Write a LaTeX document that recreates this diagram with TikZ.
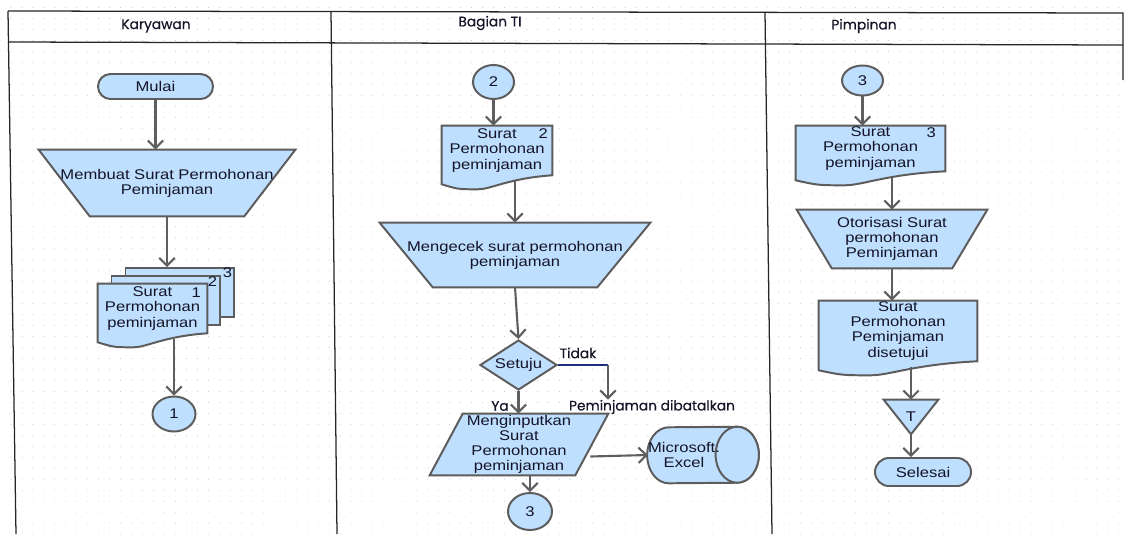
\documentclass[tikz,border=0pt]{standalone}
\usepackage{fontspec}
\setmainfont{Liberation Sans}[FakeStretch=1.18]
\newfontfamily\handfont{Poppins}[FakeBold=0.5]
\usetikzlibrary{shapes.geometric,shapes.misc,arrows.meta,backgrounds,patterns.meta}
\definecolor{boxfill}{HTML}{BFDFFF}
\definecolor{boxline}{HTML}{5C5C5C}
\definecolor{arrline}{HTML}{5E5E5E}
\definecolor{navy}{HTML}{1F2E80}
\definecolor{txt}{HTML}{141428}

\newcommand\docshape[2]{%
  \filldraw[shp] (#1.north west) -- (#1.north east) -- (#1.south east)
    .. controls ([shift={(-0.4*#2,3)}]#1.south east) and ([shift={(0.45*#2,14)}]#1.south west)
    .. ([shift={(0.33*#2,14)}]#1.south west)
    .. controls ([shift={(0.15*#2,14)}]#1.south west) .. ([shift={(0,9)}]#1.south west) -- cycle;}
\newcommand\trapshape[2]{%
  \filldraw[shp] (#1.north west) -- (#1.north east) -- ([shift={(-#2,0)}]#1.south east)
    -- ([shift={(#2,0)}]#1.south west) -- cycle;}

\begin{document}
\begin{tikzpicture}[x=0.025cm, y=-0.025cm,
    font=\fontsize{10}{10.7}\selectfont,
    box/.style={align=center, inner sep=0pt, text=txt},
    shp/.style={fill=boxfill, draw=boxline, line width=1.4pt},
    term/.style={box, shp, rounded rectangle},
    conn/.style={box, shp, ellipse},
    arr/.style={draw=arrline, line width=1.5pt, -{Straight Barb[length=5.5pt,width=11pt]}},
    lane/.style={draw=black!85, line width=0.9pt},
    hand/.style={inner sep=0pt, text=txt, font=\handfont\fontsize{9.8}{11}\selectfont},
    fromdoc/.style={shorten <=0.15cm}]
  \useasboundingbox (0,0) rectangle (1124,534);

  \draw[lane] (8,11) -- (1123,13) -- (1123,80);
  \draw[lane] (8,42) -- (1123,45);
  \draw[lane] (8,11) -- (16,534);
  \draw[lane] (331,11) -- (337,534);
  \draw[lane] (765,12) -- (772,534);
  \node[hand] (hk) at (156,26) {Karyawan};
  \node[hand] (ht) at (490,23) {Bagian TI};
  \node[hand] (hp) at (864,26) {Pimpinan};

  % Karyawan
  \node[term, minimum width=2.875cm, minimum height=0.625cm] (mulai) at (155.5,86.5) {Mulai};
  \node[box, minimum width=6.4cm, minimum height=1.65cm] (membuat) at (167,183) {Membuat Surat Permohonan\\Peminjaman};
  \node[box, minimum width=2.725cm, minimum height=1.225cm] (sa) at (152.5,308.5) {Surat\\Permohonan\\peminjaman};
  \node[conn, minimum width=1.075cm, minimum height=0.875cm] (c1) at (174,414) {1};

  % Bagian TI
  \node[conn, minimum width=1.025cm, minimum height=0.85cm] (c2) at (493.5,82) {2};
  \node[box, minimum width=2.75cm, minimum height=1.225cm] (sb) at (497,150.5) {Surat\\Permohonan\\peminjaman};
  \node[box, minimum width=6.75cm, minimum height=1.6cm] (cek) at (515,255) {Mengecek surat permohonan\\peminjaman};
  \node[box, shp, diamond, aspect=1.5, minimum width=1.925cm, minimum height=1.25cm] (setuju) at (518.5,365) {Setuju};
  \node[hand] (tidak) at (578,353) {Tidak};
  \node[hand] (ya) at (500,406) {Ya};
  \node[hand] (batal) at (652,407) {Peminjaman dibatalkan};
  \node[box, minimum width=4.45cm, minimum height=1.525cm] (input) at (519,444.5) {Menginputkan\\Surat\\Permohonan\\peminjaman};
  \node[box, minimum width=1.7cm, minimum height=1.4cm] (excel) at (684,455) {Microsoft.\\Excel};
  \node[conn, minimum width=1.1cm, minimum height=0.925cm] (c3b) at (530,511.5) {3};

  % Pimpinan
  \node[conn, minimum width=1.025cm, minimum height=0.75cm] (c3c) at (862.5,80.5) {3};
  \node[box, minimum width=3.725cm, minimum height=1.125cm] (sc) at (870.5,148.5) {Surat\\Permohonan\\peminjaman};
  \node[box, minimum width=4.75cm, minimum height=1.45cm] (otor) at (892,239) {Otorisasi Surat\\permohonan\\Peminjaman};
  \node[box, minimum width=3.95cm, minimum height=1.5cm] (sd) at (898,331) {Surat\\Permohonan\\Peminjaman\\disetujui};
  \node[box, minimum width=1.35cm, minimum height=0.85cm] (tri) at (911,417) {T};
  \node[term, minimum width=2.4cm, minimum height=0.7cm] (selesai) at (923,472) {Selesai};

  \begin{scope}[on background layer]
    \fill[pattern={Dots[distance=7.8pt,radius=0.35pt]}, pattern color=black!25] (0,0) rectangle (1124,534);
    \node[shp, minimum width=2.7cm, minimum height=1.225cm] (sa3) at ([shift={(27,-16)}]sa) {};
    \node[shp, minimum width=2.7cm, minimum height=1.225cm] (sa2) at ([shift={(13,-8)}]sa) {};
    \docshape{sa}{109}
    \docshape{sb}{110}
    \docshape{sc}{149}
    \docshape{sd}{158}
    \trapshape{membuat}{51}
    \trapshape{cek}{53}
    \trapshape{otor}{35}
    \filldraw[shp] (input.south west) -- ([shift={(33,0)}]input.north west) -- (input.north east)
      -- ([shift={(-33,0)}]input.south east) -- cycle;
    \filldraw[shp] (tri.north west) -- (tri.north east) -- (tri.south) -- cycle;
    \filldraw[shp] ([shift={(17,0)}]excel.north east) arc[start angle=90, end angle=-90, x radius=0.54cm, y radius=0.7cm]
      -- ([shift={(21,0)}]excel.south west) arc[start angle=270, end angle=90, x radius=0.54cm, y radius=0.7cm] -- cycle;
    \draw[shp] ([shift={(17,28)}]excel.north east) ellipse[x radius=0.54cm, y radius=0.7cm];
  \end{scope}

  \node[box] (na) at ([shift={(-11,9)}]sa.north east) {1};
  \node[box] (na2) at ([shift={(-8,7)}]sa2.north east) {2};
  \node[box] (na3) at ([shift={(-7,6)}]sa3.north east) {3};
  \node[box] (nb) at ([shift={(-9,8)}]sb.north east) {2};
  \node[box] (nc) at ([shift={(-14,7)}]sc.north east) {3};

  \coordinate (tk) at (608,365);
  \draw[arr] (mulai.south) -- (mulai.south |- membuat.north);
  \draw[arr] (membuat.south) -- (membuat.south |- sa3.north);
  \draw[arr, fromdoc] (sa.south -| c1) -- (c1.north);
  \draw[arr] (c2.south) -- (c2.south |- sb.north);
  \draw[arr, fromdoc] (sb.south -| cek) -- (cek.north);
  \draw[arr] (cek.south) -- (setuju.north);
  \draw[draw=navy, line width=0.9pt] (setuju.east) -- (tk);
  \draw[arr] (tk) -- (tk |- batal.north);
  \draw[arr] (setuju.south) -- (setuju.south |- input.north);
  \draw[arr] ([shift={(-18,12)}]input.east) -- (excel.west);
  \draw[arr] (input.south -| c3b) -- (c3b.north);
  \draw[arr] (c3c.south) -- (c3c.south |- sc.north);
  \draw[arr, fromdoc] (sc.south -| otor) -- (otor.north);
  \draw[arr] (otor.south) -- (otor.south |- sd.north);
  \draw[arr, fromdoc] (sd.south -| tri) -- (tri.north);
  \draw[arr] (tri.south) -- (tri.south |- selesai.north);
\end{tikzpicture}
\end{document}
